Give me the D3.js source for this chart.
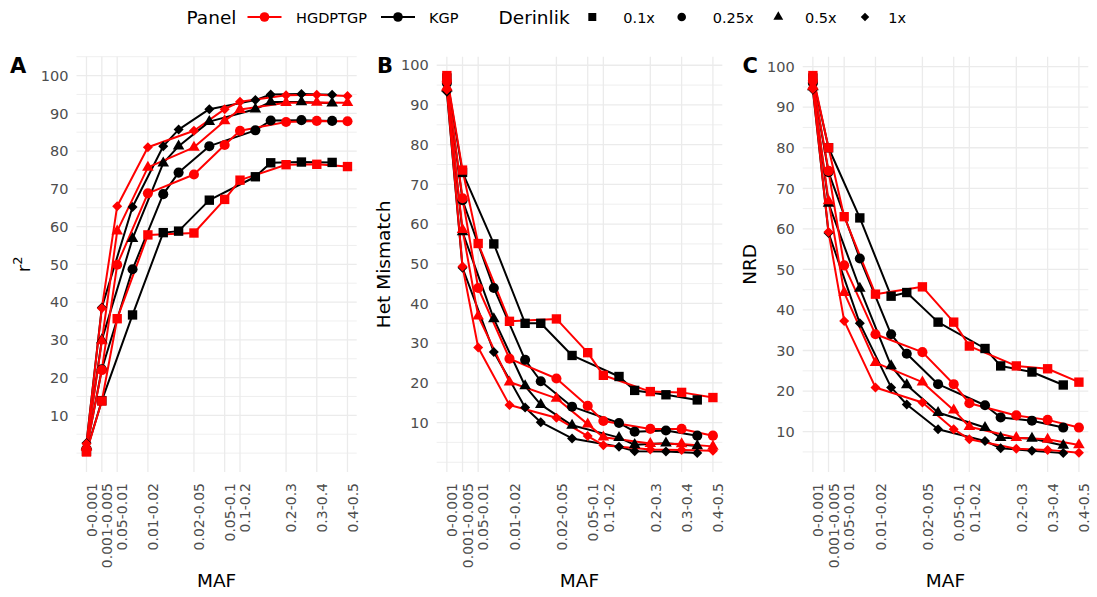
<!DOCTYPE html>
<html>
<head>
<meta charset="utf-8">
<script src="https://cdn.jsdelivr.net/npm/d3@7"></script>
<style>
  body { margin: 0; background: #fff; }
  svg { display: block; }
  text { font-family: "DejaVu Sans", sans-serif; }
</style>
</head>
<body>
<svg id="chart" width="1097" height="597"></svg>
<script>
// ---- data ---------------------------------------------------------------
// MAF bins on the x axis (position index and label)
const mafTickPos = [0, 1, 2, 4, 7, 9, 10, 13, 15, 17];
const mafLabels = ["0-0.001", "0.001-0.005", "0.05-0.01", "0.01-0.02", "0.02-0.05",
                   "0.05-0.1", "0.1-0.2", "0.2-0.3", "0.3-0.4", "0.4-0.5"];
// x position of each reference panel's points on the MAF axis
const hgdpX = [0, 1, 2, 4, 7, 9, 10, 13, 15, 17];
const kgpX  = [0, 1, 3, 5, 6, 8, 11, 12, 14, 16];

const panelNames = ["HGDPTGP", "KGP"];
const depths = ["0.1x", "0.25x", "0.5x", "1x"];
const yTicks = [10, 20, 30, 40, 50, 60, 70, 80, 90, 100];

// A: r^2
const r2_hgdp = [
  [0.3, 13.8, 35.6, 57.8, 58.3, 67.2, 72.3, 76.4, 76.5, 75.9],
  [1.0, 22.0, 49.9, 68.8, 73.8, 81.6, 85.4, 87.7, 88.0, 87.9],
  [1.6, 29.7, 58.8, 75.7, 81.0, 88.0, 91.0, 92.8, 92.9, 92.8],
  [2.5, 38.4, 65.4, 81.0, 85.4, 91.1, 93.1, 94.8, 94.9, 94.6]
];
const r2_kgp = [
  [0.5, 13.9, 36.6, 58.4, 58.8, 67.0, 73.2, 76.9, 77.1, 77.0],
  [1.1, 22.2, 48.7, 68.6, 74.3, 81.3, 85.5, 88.1, 88.2, 88.0],
  [1.8, 30.0, 56.8, 76.8, 81.3, 87.8, 91.1, 93.0, 93.0, 92.7],
  [2.7, 38.6, 65.2, 81.3, 85.7, 91.1, 93.5, 95.0, 95.1, 94.9]
];
// B: heterozygous mismatch
const het_hgdp = [
  [97.4, 73.6, 55.1, 35.5, 36.1, 27.6, 21.9, 17.8, 17.6, 16.3],
  [96.0, 66.5, 43.9, 26.1, 21.1, 14.2, 10.4, 8.4, 8.4, 6.7],
  [94.5, 58.6, 36.8, 20.2, 16.1, 9.6, 6.3, 4.7, 4.6, 4.0],
  [93.8, 49.3, 28.9, 14.4, 11.2, 6.6, 4.3, 3.2, 3.1, 2.9]
];
const het_kgp = [
  [96.8, 73.0, 55.0, 35.0, 35.0, 26.9, 21.6, 18.1, 17.0, 15.7],
  [95.5, 66.0, 43.9, 25.8, 20.4, 14.0, 9.9, 7.7, 8.0, 6.7],
  [94.2, 58.0, 36.1, 19.2, 14.5, 9.3, 6.2, 4.4, 4.8, 4.1],
  [93.3, 49.0, 27.8, 13.8, 10.1, 6.0, 3.9, 2.8, 2.7, 2.3]
];
// C: non-reference discordance
const nrd_hgdp = [
  [97.8, 80.0, 63.0, 43.9, 45.7, 37.0, 31.1, 26.2, 25.5, 22.2],
  [96.5, 74.3, 51.0, 34.0, 29.6, 21.7, 17.0, 14.0, 12.9, 11.0],
  [95.2, 66.9, 44.3, 27.0, 22.2, 15.3, 11.2, 8.5, 8.1, 6.7],
  [94.5, 59.2, 37.3, 20.9, 17.2, 10.6, 8.1, 5.8, 5.5, 4.8]
];
const nrd_kgp = [
  [97.2, 80.0, 62.7, 43.4, 44.3, 37.0, 30.5, 26.2, 24.7, 21.5],
  [96.0, 74.0, 52.7, 34.0, 29.2, 21.7, 16.5, 13.5, 12.7, 11.0],
  [95.0, 66.3, 45.3, 26.2, 21.5, 14.7, 11.0, 8.5, 8.3, 6.6],
  [94.3, 59.0, 36.7, 20.9, 16.7, 10.6, 7.7, 5.9, 5.3, 4.7]
];

// ---- styling / layout ---------------------------------------------------
const colors = { HGDPTGP: "#ff0000", KGP: "#000000" };
const svg = d3.select("#chart");
const plotTop = 56.7, plotBottom = 472;
const tickGray = "#4d4d4d", gridColor = "#ebebeb";

const panels = [
  { tag: "A", title: "r2", hgdp: r2_hgdp, kgp: r2_kgp, left: 76.5, right: 356.7, tagX: 10, fixed: [0, 100] },
  { tag: "B", title: "Het Mismatch", hgdp: het_hgdp, kgp: het_kgp, left: 436.7, right: 722.3, tagX: 377 },
  { tag: "C", title: "NRD", hgdp: nrd_hgdp, kgp: nrd_kgp, left: 802.7, right: 1088.3, tagX: 742.5 }
];

function markerPath(depth, k) {
  const s = k || 1;
  if (depth === "0.1x") return d3.symbol(d3.symbolSquare, 88 * s * s)();
  if (depth === "0.25x") return d3.symbol(d3.symbolCircle, 80 * s * s)();
  if (depth === "0.5x") return d3.symbol(d3.symbolTriangle, 58 * s * s)();
  const r = 5 * s;
  return `M0,${-r}L${r},0L0,${r}L${-r},0Z`;
}

panels.forEach(p => {
  const g = svg.append("g");
  const x = d3.scaleLinear().domain([-0.65, 17.6]).range([p.left, p.right]);
  let lo, hi;
  if (p.fixed) { [lo, hi] = p.fixed; }
  else {
    const all = p.hgdp.flat().concat(p.kgp.flat());
    [lo, hi] = d3.extent(all);
  }
  const pad = (hi - lo) * 0.05;
  const y = d3.scaleLinear().domain([lo - pad, hi + pad]).range([plotBottom, plotTop]);
  const [d0, d1] = y.domain();

  // grid: minor lines halfway between majors (and one step beyond), then majors
  const minorVals = [0].concat(d3.range(5, 110, 10)).filter(v => v >= d0 && v <= d1 + 0.3);
  g.selectAll(".minor").data(minorVals).join("line")
    .attr("x1", p.left).attr("x2", p.right)
    .attr("y1", d => y(d)).attr("y2", d => y(d))
    .attr("stroke", gridColor).attr("stroke-width", 0.8);
  g.selectAll(".major").data(yTicks).join("line")
    .attr("x1", p.left).attr("x2", p.right)
    .attr("y1", d => y(d)).attr("y2", d => y(d))
    .attr("stroke", gridColor).attr("stroke-width", 1.3);
  g.selectAll(".vmajor").data(mafTickPos).join("line")
    .attr("x1", d => x(d)).attr("x2", d => x(d))
    .attr("y1", plotTop).attr("y2", plotBottom)
    .attr("stroke", gridColor).attr("stroke-width", 1.3);

  // y tick labels
  g.selectAll(".ylab").data(yTicks).join("text")
    .attr("x", p.left - 8).attr("y", d => y(d)).attr("dy", "0.36em")
    .attr("text-anchor", "end").attr("fill", tickGray).attr("font-size", 14.5)
    .text(d => d);

  // x tick labels (rotated)
  g.selectAll(".xlab").data(mafTickPos).join("text")
    .attr("transform", (d) => `translate(${x(d) + 10.3},483) rotate(-90)`)
    .attr("text-anchor", "end").attr("fill", tickGray).attr("font-size", 14)
    .text((d, i) => mafLabels[i]);

  // axis titles
  g.append("text")
    .attr("x", (p.left + p.right) / 2).attr("y", 587)
    .attr("text-anchor", "middle").attr("font-size", 18.5).attr("fill", "#000")
    .text("MAF");
  const yt = g.append("text")
    .attr("transform", `translate(${p.left - 47},${(plotTop + plotBottom) / 2}) rotate(-90)`)
    .attr("text-anchor", "middle").attr("font-size", 18.5).attr("fill", "#000");
  if (p.title === "r2") {
    yt.append("tspan").text("r");
    yt.append("tspan").attr("font-size", 13).attr("dy", "-0.55em").text("2");
  } else {
    yt.text(p.title);
  }

  // panel tag
  g.append("text").attr("x", p.tagX).attr("y", 73.3)
    .attr("font-size", 21).attr("font-weight", "bold").attr("fill", "#000")
    .text(p.tag);

  // series: KGP first so HGDPTGP sits on top; all lines, then all points
  const series = [];
  ["KGP", "HGDPTGP"].forEach(name => {
    const vals = name === "KGP" ? p.kgp : p.hgdp;
    const xs = name === "KGP" ? kgpX : hgdpX;
    depths.forEach((dp, di) => {
      series.push({ name, depth: dp, pts: vals[di].map((v, i) => ({ x: xs[i], v })) });
    });
  });
  const line = d3.line().x(d => x(d.x)).y(d => y(d.v));
  series.forEach(s => {
    g.append("path").attr("d", line(s.pts))
      .attr("fill", "none").attr("stroke", colors[s.name])
      .attr("stroke-width", 2).attr("stroke-linejoin", "round");
  });
  series.forEach(s => {
    g.selectAll(null).data(s.pts).join("path")
      .attr("transform", d => `translate(${x(d.x)},${y(d.v)})`)
      .attr("d", markerPath(s.depth))
      .attr("fill", colors[s.name]);
  });
});

// ---- legend -------------------------------------------------------------
const leg = svg.append("g");
const legY = 17;
leg.append("text").attr("x", 186.5).attr("y", 23.5).attr("font-size", 18.5).text("Panel");
const panelKeys = [
  { name: panelNames[0], lx: 247.5, tx: 296 },
  { name: panelNames[1], lx: 381, tx: 429 }
];
panelKeys.forEach(k => {
  leg.append("line").attr("x1", k.lx).attr("x2", k.lx + 34).attr("y1", legY).attr("y2", legY)
    .attr("stroke", colors[k.name]).attr("stroke-width", 2.2);
  leg.append("circle").attr("cx", k.lx + 17).attr("cy", legY).attr("r", 4.8).attr("fill", colors[k.name]);
  leg.append("text").attr("x", k.tx).attr("y", 22.5).attr("font-size", 14.5).text(k.name);
});
leg.append("text").attr("x", 498.5).attr("y", 23.5).attr("font-size", 18.5).text("Derinlik");
const depthKeys = [
  { sx: 592.3, tx: 623.3 },
  { sx: 681.7, tx: 712.7 },
  { sx: 778.3, tx: 805 },
  { sx: 865, tx: 888.3 }
];
depths.forEach((dp, i) => {
  leg.append("path").attr("transform", `translate(${depthKeys[i].sx},${legY})`)
    .attr("d", markerPath(dp, 0.85)).attr("fill", "#000");
  leg.append("text").attr("x", depthKeys[i].tx).attr("y", 22.5).attr("font-size", 14.5).text(dp);
});
</script>
</body>
</html>
